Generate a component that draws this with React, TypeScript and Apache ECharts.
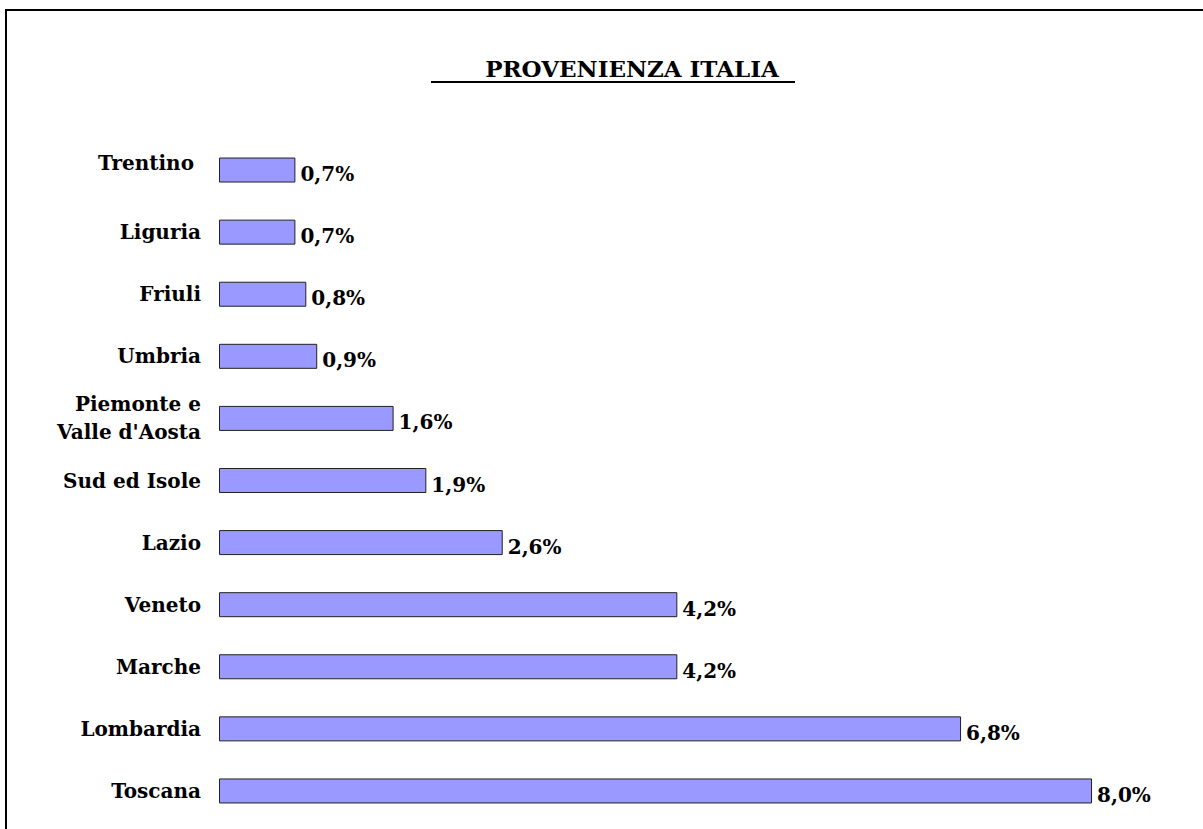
import React, { useEffect, useRef } from "react";
import * as echarts from "echarts";

const categories = [
  "Toscana",
  "Lombardia",
  "Marche",
  "Veneto",
  "Lazio",
  "Sud ed Isole",
  "Piemonte e\nValle d'Aosta",
  "Umbria",
  "Friuli",
  "Liguria",
  "Trentino",
];
const values = [8.0, 6.8, 4.2, 4.2, 2.6, 1.9, 1.6, 0.9, 0.8, 0.7, 0.7];
const titleText = "PROVENIENZA ITALIA";

const FONT = "'DejaVu Serif', serif";

export default function App() {
  const ref = useRef<HTMLDivElement>(null);
  useEffect(() => {
    if (!ref.current) return;
    const chart = echarts.init(ref.current, undefined, { renderer: "svg" });
    chart.setOption({
      animation: false,
      backgroundColor: "#ffffff",
      title: {
        text: titleText,
        left: 627,
        top: 52,
        textAlign: "center",
        textStyle: { fontFamily: FONT, fontWeight: "bold", fontSize: 23, color: "#000" },
      },
      graphic: [
        {
          type: "rect",
          shape: { x: 6, y: 10, width: 1300, height: 1000 },
          style: { fill: "none", stroke: "#000", lineWidth: 2 },
          silent: true,
        },
        {
          type: "line",
          shape: { x1: 431, y1: 82, x2: 795, y2: 82 },
          style: { stroke: "#000", lineWidth: 2 },
        },
      ],
      grid: { left: 219, right: 111, top: 139, bottom: 7, containLabel: false },
      xAxis: {
        type: "value",
        min: 0,
        max: 8,
        show: false,
        splitLine: { show: false },
      },
      yAxis: {
        type: "category",
        data: categories,
        axisLine: { show: false },
        axisTick: { show: false },
        axisLabel: {
          margin: 18,
          fontFamily: FONT,
          fontWeight: "bold",
          fontSize: 20,
          color: "#000",
          lineHeight: 28,
          align: "right",
          formatter: (v: string) => (v === "Trentino" ? "{t|" + v + "}" : v),
          rich: {
            t: {
              fontFamily: FONT,
              fontWeight: "bold",
              fontSize: 20,
              color: "#000",
              padding: [0, 7, 14, 0],
            },
          },
        },
      },
      series: [
        {
          type: "bar",
          data: values,
          barWidth: 25,
          itemStyle: { color: "#9999ff", borderColor: "#222", borderWidth: 1 },
          label: {
            show: true,
            position: "right",
            distance: 5,
            offset: [0, 4],
            formatter: (p: any) => p.value.toFixed(1).replace(".", ",") + "%",
            fontFamily: FONT,
            fontWeight: "bold",
            fontSize: 20,
            color: "#000",
          },
        },
      ],
    });
    return () => chart.dispose();
  }, []);
  return (
    <div
      ref={ref}
      style={{ position: "absolute", left: 0, top: 0, width: 1203, height: 829 }}
    />
  );
}
